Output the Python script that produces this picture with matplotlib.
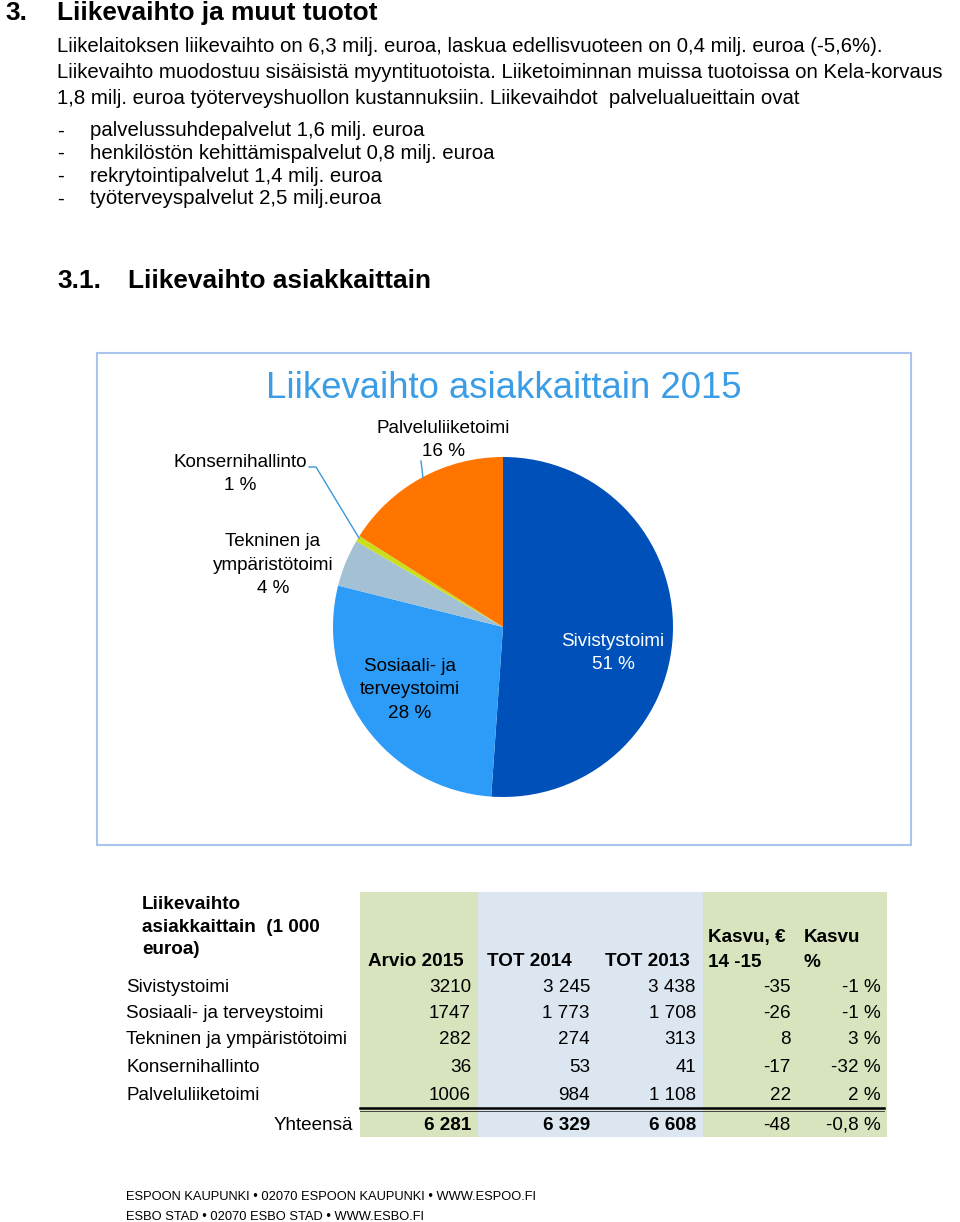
import matplotlib.pyplot as plt
from matplotlib.patches import Rectangle

plt.rcParams['font.family'] = ['Liberation Sans', 'DejaVu Sans']

# Data
customers = ['Sivistystoimi', 'Sosiaali- ja terveystoimi', 'Tekninen ja ympäristötoimi',
             'Konsernihallinto', 'Palveluliiketoimi']
pie_labels = ['Sivistystoimi', 'Sosiaali- ja\nterveystoimi', 'Tekninen ja\nympäristötoimi',
              'Konsernihallinto', 'Palveluliiketoimi']
arvio_2015 = [3210, 1747, 282, 36, 1006]
tot_2014 = [3245, 1773, 274, 53, 984]
tot_2013 = [3438, 1708, 313, 41, 1108]
kasvu_eur = [-35, -26, 8, -17, 22]
kasvu_pct = ['-1 %', '-1 %', '3 %', '-32 %', '2 %']
total_kasvu_eur = -48
total_kasvu_pct = '-0,8 %'
colors = ['#0050BA', '#2C9CF8', '#A3C0D4', '#C9DF1B', '#FF7500']

W, H = 960, 1222
fig = plt.figure(figsize=(W / 100, H / 100), dpi=100)
page = fig.add_axes([0, 0, 1, 1])
page.set_xlim(0, W)
page.set_ylim(H, 0)
page.axis('off')
page.set_zorder(2)

HEAD = 18.9
BODY = 14.7
TAB = 13.6

# Headings and body text
page.text(5, 13, '3.', fontsize=HEAD, weight='bold', va='center')
page.text(57, 13, 'Liikevaihto ja muut tuotot', fontsize=HEAD, weight='bold', va='center')
body = ['Liikelaitoksen liikevaihto on 6,3 milj. euroa, laskua edellisvuoteen on 0,4 milj. euroa (-5,6%).',
        'Liikevaihto muodostuu sisäisistä myyntituotoista. Liiketoiminnan muissa tuotoissa on Kela-korvaus',
        '1,8 milj. euroa työterveyshuollon kustannuksiin. Liikevaihdot  palvelualueittain ovat']
for i, line in enumerate(body):
    page.text(57, 46 + 26 * i, line, fontsize=BODY, va='center')
bullets = ['palvelussuhdepalvelut 1,6 milj. euroa',
           'henkilöstön kehittämispalvelut 0,8 milj. euroa',
           'rekrytointipalvelut 1,4 milj. euroa',
           'työterveyspalvelut 2,5 milj.euroa']
for i, line in enumerate(bullets):
    y = 131 + 22.6 * i
    page.text(57, y, '-', fontsize=BODY, va='center')
    page.text(90, y, line, fontsize=BODY, va='center')

page.text(57, 281, '3.1.', fontsize=HEAD, weight='bold', va='center')
page.text(128, 281, 'Liikevaihto asiakkaittain', fontsize=HEAD, weight='bold', va='center')

# Chart frame and title
page.add_patch(Rectangle((97, 353), 814, 492, fill=False, ec='#A9C4EC', lw=1.5))
page.text(504, 388, 'Liikevaihto asiakkaittain 2015', fontsize=26.3, color='#3A9DE6',
          ha='center', va='center')

# Pie
cx, cy, r = 503, 627, 170
pie_ax = fig.add_axes([(cx - r) / W, (H - cy - r) / H, 2 * r / W, 2 * r / H])
pie_ax.set_zorder(1)
pie_ax.pie(arvio_2015, colors=colors, startangle=90, counterclock=False,
           wedgeprops={'linewidth': 0})
pie_ax.set_xlim(-1, 1)
pie_ax.set_ylim(-1, 1)
pie_ax.axis('off')

total = sum(arvio_2015)
pcts = [f'{round(v / total * 100)} %' for v in arvio_2015]
label_pos = [(613, 653), (410, 690), (273, 565), (240, 474), (443, 440)]
label_col = ['white', 'black', 'black', 'black', 'black']
for lab, pct, (x, y), c in zip(pie_labels, pcts, label_pos, label_col):
    page.text(x, y, f'{lab}\n{pct}', fontsize=TAB, color=c, ha='center', va='center',
              linespacing=1.47)
page.plot([309, 316, 359], [467, 467, 538], color='#3A9AD9', lw=1)
page.plot([421, 423], [461, 478], color='#3A9AD9', lw=1)

# Table
top, bottom = 892, 1137
page.add_patch(Rectangle((360, top), 118, bottom - top, color='#D7E4BD', lw=0))
page.add_patch(Rectangle((478, top), 225, bottom - top, color='#DCE6F1', lw=0))
page.add_patch(Rectangle((703, top), 184, bottom - top, color='#D7E4BD', lw=0))

page.text(142, 927, 'Liikevaihto\nasiakkaittain  (1 000\neuroa)', fontsize=TAB, weight='bold',
          va='center', linespacing=1.39)
page.text(368, 961, 'Arvio 2015', fontsize=TAB, weight='bold', va='center')
page.text(487, 961, 'TOT 2014', fontsize=TAB, weight='bold', va='center')
page.text(605, 961, 'TOT 2013', fontsize=TAB, weight='bold', va='center')
page.text(708, 950, 'Kasvu, €\n14 -15', fontsize=TAB, weight='bold', va='center', linespacing=1.6)
page.text(804, 950, 'Kasvu\n%', fontsize=TAB, weight='bold', va='center', linespacing=1.6)


def fmt(v):
    return f'{v:,}'.replace(',', ' ')


col_right = [471, 590, 696, 791, 881]
row_y = [987, 1013, 1040, 1068, 1096]
for i, name in enumerate(customers):
    y = row_y[i]
    page.text(126, y, name, fontsize=TAB, va='center')
    vals = [str(arvio_2015[i]), fmt(tot_2014[i]), fmt(tot_2013[i]), str(kasvu_eur[i]), kasvu_pct[i]]
    for x, v in zip(col_right, vals):
        page.text(x, y, v, fontsize=TAB, ha='right', va='center')

page.plot([360, 884], [1107.5, 1107.5], color='black', lw=1.8)
page.plot([360, 884], [1110.5, 1110.5], color='#444444', lw=0.7)

ty = 1125
page.text(353, ty, 'Yhteensä', fontsize=TAB, ha='right', va='center')
totals = [fmt(sum(arvio_2015)), fmt(sum(tot_2014)), fmt(sum(tot_2013))]
for x, v in zip(col_right[:3], totals):
    page.text(x, ty, v, fontsize=TAB, weight='bold', ha='right', va='center')
page.text(col_right[3], ty, str(total_kasvu_eur), fontsize=TAB, ha='right', va='center')
page.text(col_right[4], ty, total_kasvu_pct, fontsize=TAB, ha='right', va='center')

# Footer
page.text(126, 1197, 'ESPOON KAUPUNKI • 02070 ESPOON KAUPUNKI • WWW.ESPOO.FI', fontsize=9.25, va='center')
page.text(126, 1217, 'ESBO STAD • 02070 ESBO STAD • WWW.ESBO.FI', fontsize=9.25, va='center')

fig.savefig('out.png', dpi=100)
